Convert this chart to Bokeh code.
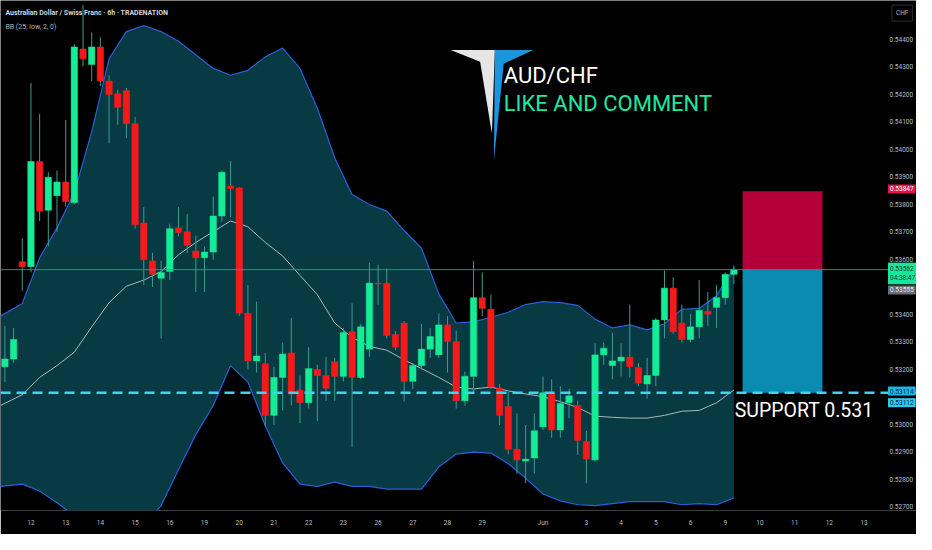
from bokeh.plotting import figure
from bokeh.models import Range1d, FixedTicker, PrintfTickFormatter, Span, Label
from bokeh.embed import file_html
from bokeh.resources import INLINE

# ---------------- data ----------------
bar_index = list(range(-3, 82))
opens = [0.53209, 0.53237, 0.53591, 0.53573, 0.53955, 0.53778, 0.53831, 0.53881, 0.53806, 0.54365,
         0.54308, 0.54372, 0.54248, 0.54202, 0.54213, 0.54093, 0.53732, 0.53594, 0.53531, 0.53555,
         0.53714, 0.53700, 0.53630, 0.53605, 0.53626, 0.53757, 0.53866, 0.53859, 0.53403, 0.53230,
         0.53220, 0.53032, 0.53170, 0.53259, 0.53124, 0.53078, 0.53199, 0.53177, 0.53227, 0.53174,
         0.53336, 0.53170, 0.53273, 0.53513, 0.53513, 0.53326, 0.53368, 0.53156, 0.53213, 0.53273,
         0.53252, 0.53361, 0.53301, 0.53085, 0.53174, 0.53460, 0.53418, 0.53131, 0.53064, 0.52909,
         0.52866, 0.52877, 0.52990, 0.53114, 0.52979, 0.53078, 0.53068, 0.52937, 0.52870, 0.53252,
         0.53213, 0.53230, 0.53244, 0.53206, 0.53146, 0.53177, 0.53379, 0.53495, 0.53368, 0.53308,
         0.53354, 0.53411, 0.53425, 0.53460, 0.53545]
highs = [0.53358, 0.53350, 0.53676, 0.54241, 0.54128, 0.53916, 0.53923, 0.54107, 0.54382, 0.54524,
         0.54425, 0.54407, 0.54269, 0.54216, 0.54223, 0.54117, 0.53789, 0.53623, 0.53594, 0.53729,
         0.53789, 0.53764, 0.53686, 0.53647, 0.53828, 0.53923, 0.53958, 0.53863, 0.53506, 0.53446,
         0.53259, 0.53209, 0.53297, 0.53386, 0.53177, 0.53280, 0.53216, 0.53244, 0.53241, 0.53350,
         0.53439, 0.53365, 0.53587, 0.53580, 0.53566, 0.53340, 0.53375, 0.53223, 0.53365, 0.53350,
         0.53403, 0.53393, 0.53340, 0.53191, 0.53594, 0.53552, 0.53471, 0.53146, 0.53117, 0.53039,
         0.52997, 0.53039, 0.53174, 0.53163, 0.53138, 0.53128, 0.53085, 0.52976, 0.53294, 0.53297,
         0.53333, 0.53294, 0.53435, 0.53223, 0.53241, 0.53386, 0.53559, 0.53534, 0.53435, 0.53400,
         0.53524, 0.53481, 0.53506, 0.53552, 0.53577]
lows = [0.53153, 0.53223, 0.53485, 0.53552, 0.53739, 0.53647, 0.53700, 0.53792, 0.53799, 0.54301,
        0.54248, 0.54230, 0.54022, 0.54089, 0.54040, 0.53711, 0.53506, 0.53499, 0.53312, 0.53524,
        0.53683, 0.53623, 0.53481, 0.53481, 0.53598, 0.53736, 0.53753, 0.53393, 0.53199, 0.53188,
        0.52994, 0.52997, 0.53050, 0.53068, 0.53004, 0.53057, 0.53011, 0.53085, 0.53085, 0.53156,
        0.52916, 0.53163, 0.53244, 0.53435, 0.53312, 0.53269, 0.53082, 0.53128, 0.53199, 0.53241,
        0.53241, 0.53188, 0.53057, 0.53068, 0.53110, 0.53393, 0.53128, 0.52997, 0.52891, 0.52820,
        0.52785, 0.52820, 0.52979, 0.52951, 0.52951, 0.53022, 0.52888, 0.52785, 0.52863, 0.53216,
        0.53163, 0.53174, 0.53170, 0.53138, 0.53093, 0.53138, 0.53312, 0.53329, 0.53297, 0.53297,
        0.53312, 0.53358, 0.53350, 0.53435, 0.53510]
closes = [0.53237, 0.53308, 0.53573, 0.53955, 0.53775, 0.53898, 0.53881, 0.53810, 0.54372, 0.54329,
          0.54372, 0.54248, 0.54199, 0.54153, 0.54093, 0.53725, 0.53598, 0.53545, 0.53552, 0.53711,
          0.53697, 0.53651, 0.53605, 0.53626, 0.53757, 0.53916, 0.53856, 0.53403, 0.53230, 0.53248,
          0.53032, 0.53170, 0.53255, 0.53110, 0.53078, 0.53202, 0.53177, 0.53131, 0.53174, 0.53333,
          0.53170, 0.53354, 0.53513, 0.53510, 0.53322, 0.53280, 0.53156, 0.53213, 0.53273, 0.53319,
          0.53361, 0.53301, 0.53085, 0.53174, 0.53460, 0.53421, 0.53135, 0.53032, 0.52909, 0.52870,
          0.52873, 0.52976, 0.53114, 0.52979, 0.53075, 0.53103, 0.52941, 0.52873, 0.53252, 0.53276,
          0.53230, 0.53244, 0.53209, 0.53149, 0.53177, 0.53379, 0.53495, 0.53336, 0.53308, 0.53354,
          0.53414, 0.53400, 0.53460, 0.53545, 0.53562]

bb_t = [-3.5] + list(range(-1, 82, 2))
bb_upper = [0.53393, 0.53439, 0.53605, 0.53714, 0.53842, 0.54064, 0.54329, 0.54428, 0.54450, 0.54428,
            0.54393, 0.54344, 0.54294, 0.54269, 0.54287, 0.54336, 0.54368, 0.54294, 0.54149, 0.53969,
            0.53835, 0.53799, 0.53775, 0.53704, 0.53640, 0.53474, 0.53368, 0.53372, 0.53389, 0.53407,
            0.53435, 0.53446, 0.53442, 0.53432, 0.53382, 0.53350, 0.53361, 0.53343, 0.53365, 0.53418,
            0.53421, 0.53467, 0.53570]
bb_basis = [0.53068, 0.53107, 0.53170, 0.53213, 0.53262, 0.53354, 0.53442, 0.53502, 0.53524, 0.53555,
            0.53616, 0.53661, 0.53700, 0.53739, 0.53718, 0.53661, 0.53612, 0.53541, 0.53471, 0.53368,
            0.53315, 0.53283, 0.53269, 0.53234, 0.53202, 0.53170, 0.53135, 0.53128, 0.53135, 0.53121,
            0.53110, 0.53100, 0.53082, 0.53061, 0.53029, 0.53025, 0.53022, 0.53022, 0.53032, 0.53047,
            0.53050, 0.53078, 0.53124]
bb_lower = [0.52774, 0.52782, 0.52757, 0.52714, 0.52668, 0.52633, 0.52615, 0.52615, 0.52633, 0.52704,
            0.52835, 0.52962, 0.53068, 0.53213, 0.53153, 0.52994, 0.52859, 0.52782, 0.52774, 0.52789,
            0.52774, 0.52774, 0.52764, 0.52764, 0.52764, 0.52845, 0.52891, 0.52898, 0.52895, 0.52856,
            0.52803, 0.52746, 0.52721, 0.52707, 0.52704, 0.52711, 0.52718, 0.52718, 0.52718, 0.52707,
            0.52711, 0.52707, 0.52732]

date_ticks = [0, 4, 8, 12, 16, 20, 24, 28, 32, 36, 40, 44, 48, 52, 59, 64, 68, 72, 76, 80, 84, 88, 92, 96]
date_labels = ["12", "13", "14", "15", "16", "19", "20", "21", "22", "23", "26", "27", "28", "29",
               "Jun", "3", "4", "5", "6", "9", "10", "11", "12", "13"]
price_ticks = [0.527, 0.528, 0.529, 0.530, 0.532, 0.533, 0.534, 0.536, 0.537, 0.538,
               0.539, 0.540, 0.541, 0.542, 0.543, 0.544]

last_price = 0.53562
stop_price = 0.53847
target_price = 0.53114
prev_price = 0.53555
line_price = 0.53112
countdown = "04:38:47"
support_text = "SUPPORT  0.531"

# ---------------- layout ----------------
W, H = 916, 534
BOTTOM = 24
X0, X1 = -3.51, 102.04        # frame spans the whole width (price column included)
Y0, Y1 = 0.52686, 0.54541
FONT = "Roboto"


def px_x(px):
    return X0 + px / 932.0 * (X1 - X0)


def px_y(py):
    return Y1 - py / 525.0 * (Y1 - Y0)


p = figure(width=W, height=H, x_range=Range1d(X0, X1), y_range=Range1d(Y0, Y1),
           output_backend="svg", toolbar_location=None, y_axis_location="right",
           min_border_left=0, min_border_top=0, min_border_right=0, min_border_bottom=BOTTOM,
           background_fill_color="#000000", border_fill_color="#000000", outline_line_color=None)
p.xgrid.grid_line_color = None
p.ygrid.grid_line_color = None

for ax in (p.xaxis, p.yaxis):
    ax.axis_line_color = None
    ax.major_tick_line_color = None
    ax.minor_tick_line_color = None
    ax.major_tick_out = 0
    ax.major_tick_in = 0
    ax.minor_tick_out = 0
    ax.minor_tick_in = 0
    ax.major_label_text_color = "#b8bcc4"
    ax.major_label_text_font_size = "6.5px"
    ax.major_label_text_font = FONT
p.xaxis.ticker = FixedTicker(ticks=date_ticks)
p.xaxis.major_label_overrides = {t: l for t, l in zip(date_ticks, date_labels)}
p.xaxis.major_label_standoff = 8
p.yaxis.ticker = FixedTicker(ticks=price_ticks)
p.yaxis.formatter = PrintfTickFormatter(format="%.5f")
p.yaxis.major_label_standoff = -27

# Bollinger band
p.varea(x=bb_t, y1=bb_lower, y2=bb_upper, fill_color="#083a43")
p.line(bb_t, bb_upper, line_color="#2b5fd9", line_width=1.2)
p.line(bb_t, bb_lower, line_color="#2b5fd9", line_width=1.2)
p.line(bb_t, bb_basis, line_color="#a7b9bb", line_width=1)

# candles
GREEN, RED = "#14ec96", "#f51a1a"
colors = [GREEN if c >= o else RED for o, c in zip(opens, closes)]
tops = [max(o, c) for o, c in zip(opens, closes)]
bots = [min(o, c) for o, c in zip(opens, closes)]
p.segment(x0=bar_index, y0=lows, x1=bar_index, y1=highs, line_color="#3a9d8d", line_width=1)
p.vbar(x=bar_index, width=0.74, top=tops, bottom=bots, fill_color=colors, line_color=colors, line_width=0.5)

# position tool
p.quad(left=[82.0], right=[91.2], bottom=[last_price], top=[stop_price], fill_color="#b4003a", line_color=None)
p.quad(left=[82.0], right=[91.2], bottom=[target_price], top=[last_price], fill_color="#0a8bb2", line_color=None)

# lines
p.add_layout(Span(location=last_price, dimension="width", line_color="#3a9e86", line_width=1, line_alpha=0.85))
p.add_layout(Span(location=target_price, dimension="width", line_color="#3fd3f0", line_width=2.5, line_dash="10 6"))

# logo
p.patch([px_x(v) for v in (458, 503, 500, 488)], [px_y(v) for v in (51, 51, 137, 63)],
        fill_color="#e6e6e6", line_color=None)
p.patch([px_x(v) for v in (503, 542, 512, 502)], [px_y(v) for v in (51, 51, 65, 165)],
        fill_color="#1d95dc", line_color=None)

p.add_layout(Label(x=px_x(512), y=px_y(77), text="AUD/CHF", text_color="#ffffff", text_font=FONT,
                   text_font_size="22px", text_baseline="middle", text_align="left"))
p.add_layout(Label(x=px_x(512), y=px_y(106), text="LIKE AND COMMENT", text_color="#1ee8a0", text_font=FONT,
                   text_font_size="22px", text_baseline="middle", text_align="left"))
p.add_layout(Label(x=px_x(747), y=px_y(422), text=support_text, text_color="#ffffff", text_font=FONT,
                   text_font_size="19.5px", text_baseline="middle", text_align="left"))

# header
p.add_layout(Label(x=px_x(5), y=px_y(13), text="Australian Dollar / Swiss Franc · 6h · TRADENATION",
                   text_color="#d1d4dc", text_font=FONT, text_font_size="7px", text_font_style="bold",
                   text_baseline="middle", text_align="left"))
p.add_layout(Label(x=px_x(5), y=px_y(27), text="BB (25, low, 2, 0)", text_color="#b2b5be", text_font=FONT,
                   text_font_size="7px", text_baseline="middle", text_align="left"))


# price axis boxes
def price_box(py, txt, bg, fg):
    p.add_layout(Label(x=px_x(903), y=px_y(py), text=txt, text_color=fg, text_font=FONT,
                       text_font_size="6.5px", text_baseline="middle", text_align="left",
                       background_fill_color=bg, padding=2))


price_box(194, f"{stop_price:.5f}", "#e0174a", "#ffffff")
price_box(281, f"{last_price:.5f}\n{countdown}", "#19e59a", "#0d3b2c")
price_box(298, f"{prev_price:.5f}", "#6b6e76", "#e6e6e6")
price_box(402, f"{target_price:.5f}", "#1ab6e8", "#062a3a")
price_box(414, f"{line_price:.5f}", "#2cc6f0", "#062a3a")

p.add_layout(Label(x=px_x(907), y=px_y(13), text="CHF", text_color="#b2b5be", text_font=FONT,
                   text_font_size="6.5px", text_baseline="middle", text_align="left",
                   border_line_color="#2a2e39", padding=4))

open("out.html", "w").write(file_html(p, INLINE))
